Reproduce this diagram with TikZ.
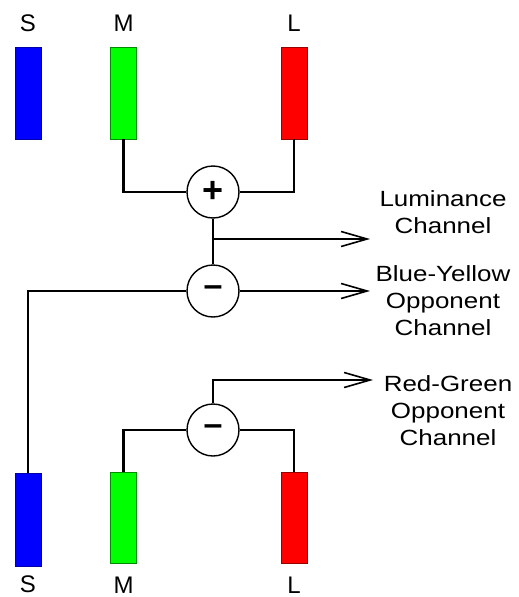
\documentclass[tikz,border=0pt]{standalone}
\usepackage{fontspec}
\setmainfont{Liberation Sans}
\newfontfamily\chanfont[FakeStretch=1.18]{Liberation Sans}
\usetikzlibrary{positioning, calc, arrows.meta}

\begin{document}
\begin{tikzpicture}[
    x=1pt, y=-1pt,
    conebar/.style  = {rectangle, line width=0.8pt, inner sep=0pt,
                       minimum width=26pt, minimum height=92pt},
    sbar/.style     = {conebar, fill=blue,  draw=blue!65!black},
    mbar/.style     = {conebar, fill=green, draw=green!55!black},
    lbar/.style     = {conebar, fill=red,   draw=red!60!black},
    opnode/.style   = {circle, draw=black, line width=1.4pt, fill=white,
                       minimum size=52pt, inner sep=0pt,
                       font=\fontsize{36}{36}\selectfont\bfseries},
    minusop/.style  = {opnode, font=\fontsize{34}{34}\selectfont\bfseries},
    conn/.style     = {line width=2.3pt, draw=black},
    outconn/.style  = {conn, -{Straight Barb[length=26pt, width=15pt, line width=1.6pt]}},
    conelbl/.style  = {font=\fontsize{24}{24}\selectfont, inner sep=0pt},
    chanlbl/.style  = {font=\chanfont\fontsize{22}{27}\selectfont,
                       align=center, inner sep=0pt, anchor=north},
]
\useasboundingbox (0,0) rectangle (519,597);

%% ============================================================
%% COORDINATES
%% ============================================================
\def\xS{28}
\def\xM{123.5}
\def\xL{294}
\def\xOp{213}
\def\xOut{370}

\def\yTop{93}
\def\yBotS{520}
\def\yBot{517.5}
\def\yPlus{192}
\def\yLum{239}
\def\yBY{291}
\def\yRGout{380}
\def\yRG{430}

%% ============================================================
%% CONES (top row and bottom row)
%% ============================================================
\node[sbar] (topS) at (\xS, \yTop) {};
\node[mbar] (topM) at (\xM, \yTop) {};
\node[lbar] (topL) at (\xL, \yTop) {};

\node[sbar, minimum height=93pt] (botS) at (\xS, \yBotS) {};
\node[mbar, minimum height=91pt] (botM) at (\xM, \yBot) {};
\node[lbar, minimum height=91pt] (botL) at (\xL, \yBot) {};

\node[conelbl, above=15pt of topS] (topSlbl) {S};
\node[conelbl, above=15pt of topM] (topMlbl) {M};
\node[conelbl, above=15pt of topL] (topLlbl) {L};

\node[conelbl, below=9pt of botS]  (botSlbl) {S};
\node[conelbl, below=13pt of botM] (botMlbl) {M};
\node[conelbl, below=13pt of botL] (botLlbl) {L};

%% ============================================================
%% OPERATORS
%% ============================================================
\node[opnode]  (plus) at (\xOp, \yPlus) {+};
\node[minusop] (by)   at (\xOp, \yBY)   {--};
\node[minusop] (rg)   at (\xOp, \yRG)   {--};

%% outputs (free ends)
\coordinate (lumEnd) at (\xOut, \yLum);
\coordinate (byEnd)  at (\xOut, \yBY);
\coordinate (rgEnd)  at (\xOut+3, \yRGout);
\coordinate (lumTap) at (\xOp, \yLum);

%% ============================================================
%% CONNECTIONS
%% ============================================================
\draw[conn] (topM.south) |- (plus.west);
\draw[conn] (topL.south) |- (plus.east);
\draw[conn] (plus.south) -- (by.north);
\draw[outconn] (lumTap) -- (lumEnd);

\draw[conn] (botS.north) |- (by.west);
\draw[outconn] (by.east) -- (byEnd);

\draw[conn] (botM.north) |- (rg.west);
\draw[conn] (botL.north) |- (rg.east);
\draw[outconn] (rg.north) |- (rgEnd);

%% ============================================================
%% CHANNEL LABELS
%% ============================================================
\node[chanlbl] (lumlbl) at (443, 190) {Luminance\\Channel};
\node[chanlbl] (bylbl)  at (443, 265) {Blue-Yellow\\Opponent\\Channel};
\node[chanlbl] (rglbl)  at (448, 375) {Red-Green\\Opponent\\Channel};

\end{tikzpicture}
\end{document}
